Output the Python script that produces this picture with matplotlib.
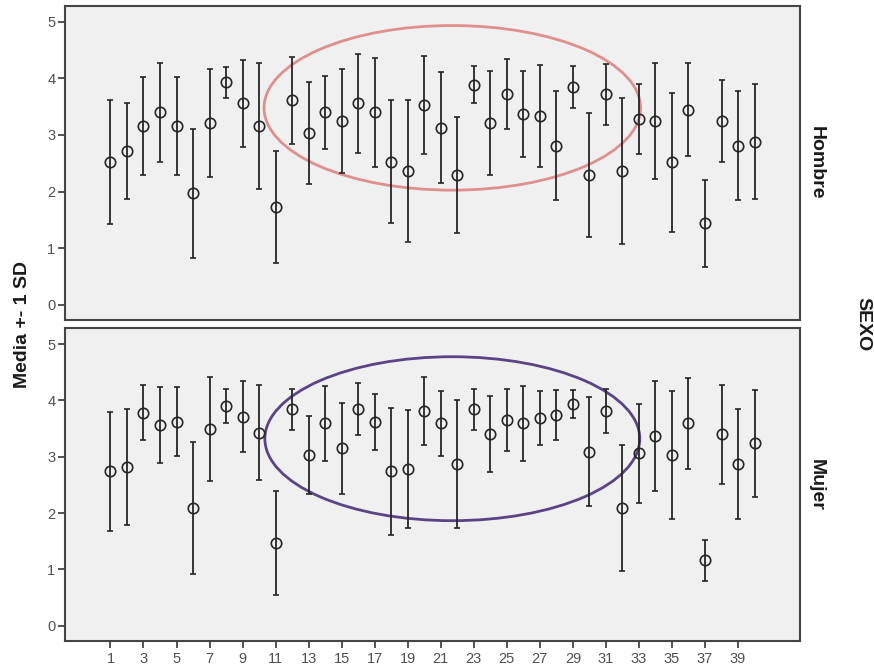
import matplotlib
matplotlib.use("Agg")
import matplotlib.pyplot as plt
from matplotlib.patches import Ellipse
import numpy as np

plt.rcParams['font.family'] = ['Liberation Sans', 'DejaVu Sans']

items = list(range(1, 41))

hombre_mean = [2.52, 2.72, 3.16, 3.40, 3.16, 1.97, 3.21, 3.93, 3.56, 3.16,
               1.72, 3.61, 3.04, 3.40, 3.24, 3.56, 3.40, 2.53, 2.36, 3.53,
               3.13, 2.29, 3.89, 3.21, 3.72, 3.37, 3.33, 2.81, 3.85, 2.29,
               3.72, 2.36, 3.29, 3.25, 2.52, 3.45, 1.44, 3.25, 2.81, 2.88]
hombre_sd = [1.09, 0.85, 0.86, 0.88, 0.86, 1.14, 0.96, 0.28, 0.77, 1.12,
             0.99, 0.77, 0.90, 0.65, 0.92, 0.87, 0.96, 1.09, 1.26, 0.87,
             0.98, 1.03, 0.33, 0.92, 0.62, 0.76, 0.90, 0.96, 0.37, 1.10,
             0.54, 1.29, 0.62, 1.02, 1.23, 0.83, 0.77, 0.73, 0.96, 1.02]

mujer_mean = [2.74, 2.81, 3.78, 3.56, 3.62, 2.09, 3.49, 3.90, 3.71, 3.43,
              1.47, 3.84, 3.03, 3.59, 3.15, 3.84, 3.62, 2.74, 2.78, 3.81,
              3.59, 2.87, 3.84, 3.40, 3.65, 3.59, 3.68, 3.74, 3.94, 3.09,
              3.81, 2.09, 3.06, 3.37, 3.03, 3.59, 1.16, 3.40, 2.87, 3.24]
mujer_sd = [1.05, 1.03, 0.49, 0.67, 0.61, 1.18, 0.92, 0.30, 0.63, 0.84,
            0.92, 0.37, 0.69, 0.67, 0.81, 0.46, 0.50, 1.13, 1.05, 0.60,
            0.57, 1.13, 0.37, 0.67, 0.55, 0.67, 0.48, 0.44, 0.25, 0.97,
            0.39, 1.12, 0.88, 0.97, 1.13, 0.80, 0.37, 0.88, 0.98, 0.95]

panel_labels = ["Hombre", "Mujer"]
y_ticks = [0, 1, 2, 3, 4, 5]
x_ticks = list(range(1, 41, 2))

fig = plt.figure(figsize=(8.74, 6.69), dpi=100)
axes = [fig.add_axes([0.0744, 0.5217, 0.8409, 0.4693]),
        fig.add_axes([0.0744, 0.0419, 0.8409, 0.4674])]

border = '#454545'
series = [(hombre_mean, hombre_sd), (mujer_mean, mujer_sd)]
ell_specs = [dict(xy=(21.7, 3.48), width=22.8, height=2.91, color='#e0908c'),
             dict(xy=(21.7, 3.32), width=22.7, height=2.91, color='#5b4386')]

for ax, (m, s), lab, es in zip(axes, series, panel_labels, ell_specs):
    ax.set_facecolor('#f0f0f0')
    ax.errorbar(items, m, yerr=s, fmt='o', ms=7.5, mfc='none', mec='#262626',
                mew=1.2, ecolor='#262626', elinewidth=1.3, capsize=2, capthick=1.3)
    ax.add_patch(Ellipse(es['xy'], es['width'], es['height'], fill=False,
                         edgecolor=es['color'], linewidth=2.0))
    ax.set_xlim(-1.75, 42.75)
    ax.set_ylim(-0.27, 5.28)
    ax.set_yticks(y_ticks)
    ax.set_xticks(x_ticks)
    for sp in ax.spines.values():
        sp.set_color(border)
        sp.set_linewidth(1.5)
    ax.tick_params(axis='y', length=5, width=1.3, color=border, labelsize=10.5,
                   labelcolor='#505050', pad=2)
    ax.tick_params(axis='x', length=5, width=1.3, color=border, labelsize=10.5,
                   labelcolor='#505050', pad=3)
    ax.text(1.011, 0.5, lab, transform=ax.transAxes, rotation=-90,
            ha='left', va='center', fontsize=14, fontweight='bold', color='#1a1a1a')

axes[0].tick_params(axis='x', bottom=False, labelbottom=False)

fig.text(0.026, 0.515, 'Media +- 1 SD', rotation=90, ha='center', va='center',
         fontsize=14, fontweight='bold', color='#1a1a1a')
fig.text(0.987, 0.515, 'SEXO', rotation=-90, ha='center', va='center',
         fontsize=14, fontweight='bold', color='#1a1a1a')

fig.savefig('out.png', dpi=100, facecolor='white')
